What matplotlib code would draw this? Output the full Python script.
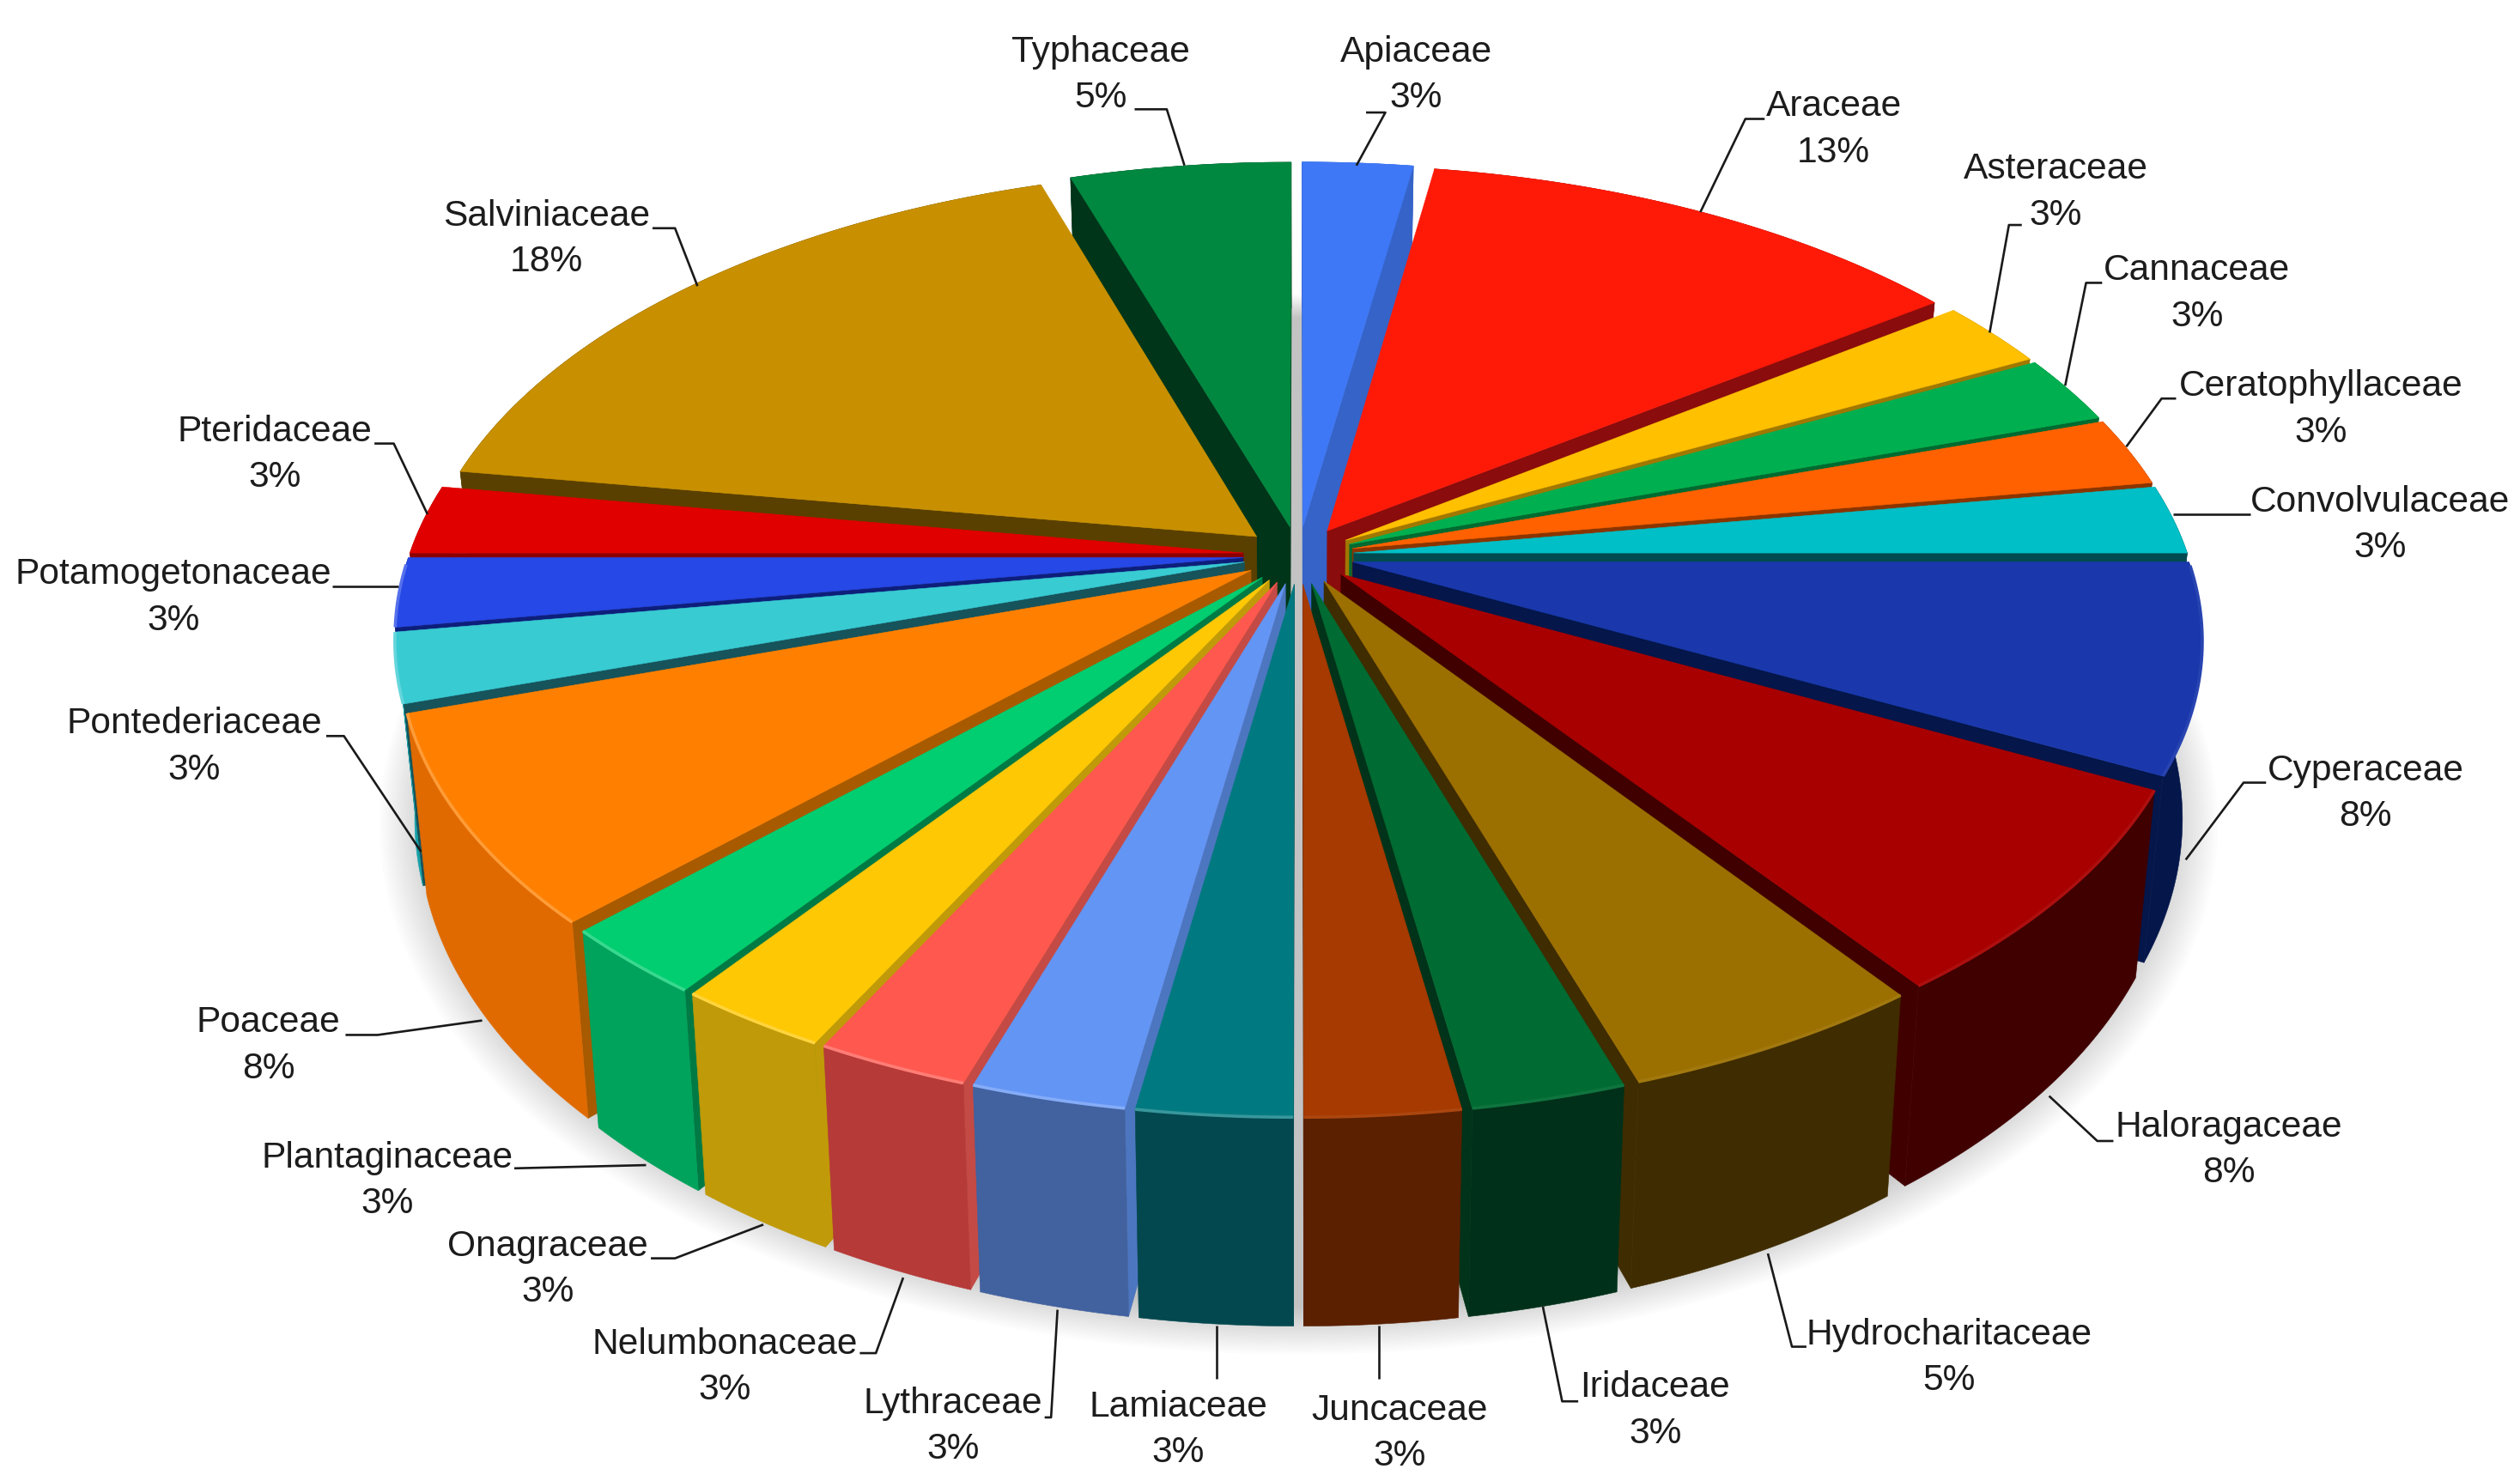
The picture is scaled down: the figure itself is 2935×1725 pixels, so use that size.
import numpy as np
import matplotlib
matplotlib.use("Agg")
import matplotlib.pyplot as plt
from matplotlib.patches import Polygon
from matplotlib.colors import to_rgb

families = ["Apiaceae","Araceae","Asteraceae","Cannaceae","Ceratophyllaceae","Convolvulaceae",
            "Cyperaceae","Haloragaceae","Hydrocharitaceae","Iridaceae","Juncaceae","Lamiaceae",
            "Lythraceae","Nelumbonaceae","Onagraceae","Plantaginaceae","Poaceae","Pontederiaceae",
            "Potamogetonaceae","Pteridaceae","Salviniaceae","Typhaceae"]
counts = [1,5,1,1,1,1,3,3,2,1,1,1,1,1,1,1,3,1,1,1,7,2]
pct_labels = ["3%","13%","3%","3%","3%","3%","8%","8%","5%","3%","3%","3%","3%","3%","3%","3%","8%","3%","3%","3%","18%","5%"]

top_colors = ["#3F78F6","#FF1A08","#FFC000","#00B050","#FF6000","#00BFC6","#1A38AC","#A80000","#9C7000",
              "#006B32","#A63A00","#007A80","#6395F5","#FF584F","#FFC805","#00CE70","#FF8000","#38CBD2",
              "#2548E6","#E00000","#C89000","#008840"]
wall_colors = ["#3563C8","#8A0C0C","#A07800","#006A30","#8A3500","#004A50","#04164A","#400000","#3F2C00",
               "#003019","#5A2000","#03484F","#41619F","#B53A38","#C09A08","#00A35C","#E06A00","#17A0A8",
               "#0D1F7A","#8A0000","#5A4000","#003519"]
side_colors = ["#3563C8","#8A0C0C","#A07800","#006A30","#8A3500","#004A50","#04164A","#400000","#3F2C00",
               "#003319","#5A2000","#03484F","#4D76C0","#C44A45","#C09A08","#007A44","#A85A00","#17535A",
               "#0D1F7A","#8A0000","#5A4000","#003519"]

label_xy = [(881,31),(1141,65),(1279,104),(1367,167),(1444,239),(1481,311),(1472,478),(1387,700),(1213,829),
            (1030,862),(871,876),(733,874),(593,872),(451,835),(341,774),(241,719),(167,635),(121,449),
            (108,356),(171,267),(340,133),(685,31)]
leaders = [[(850,70),(862,70),(844,103)],[(1098,74),(1086,74),(1058,132)],[(1258,140),(1250,140),(1238,207)],
           [(1308,176),(1298,176),(1285,240)],[(1354,248),(1345,248),(1323,278)],[(1400,320),(1352,320)],
           [(1410,487),(1396,487),(1360,535)],[(1315,710),(1305,710),(1275,682)],[(1124,838),(1115,838),(1100,780)],
           [(982,872),(972,872),(960,813)],[(858,858),(858,825)],[(757,858),(757,825)],
           [(650,882),(654,882),(658,815)],[(535,842),(545,842),(562,795)],[(405,783),(420,783),(475,762)],
           [(320,727),(402,725)],[(215,644),(235,644),(300,635)],[(203,458),(214,458),(262,530)],
           [(207,365),(248,365)],[(233,276),(245,276),(266,320)],[(406,142),(420,142),(434,178)],
           [(706,68),(726,68),(737,103)]]

W, H = 1568.0, 1725 * 1568.0 / 2935
CX, CY, A, B, K, T, EXPL, SHRINK = 808.0, 345.5, 519.0, 270.0, 0.1657, 107.0, 0.0665, 0.022

def project(u, v, z=0.0):
    u, v = np.asarray(u, float), np.asarray(v, float)
    d = 1 - K * v
    return CX + (1 - SHRINK * z) * A * u / d, CY + (B * v + T * z) / d

def pts(u, v, z=0.0):
    x, y = project(u, v, z)
    return np.column_stack([np.atleast_1d(x), np.atleast_1d(y)])

def mix(c, other, t):
    a, b = np.array(to_rgb(c)), np.array(to_rgb(other))
    return tuple(a * (1 - t) + b * t)

fig = plt.figure(figsize=(29.35, 17.25), dpi=100, facecolor="white")
ax = fig.add_axes([0, 0, 1, 1])
ax.set_xlim(0, W)
ax.set_ylim(H, 0)
ax.axis("off")
plt.rcParams["font.family"] = ["Liberation Sans", "DejaVu Sans"]

# soft shadow under the pie
th = np.linspace(0, 2 * np.pi, 240)
for s in np.linspace(1.055, 0.99, 20):
    base = pts(s * 1.05 * np.cos(th), s * 1.05 * np.sin(th), 1.0)
    ax.add_patch(Polygon(base, closed=True, fc="black", ec="none", alpha=0.011, zorder=1))

cum = np.cumsum([0] + counts) / sum(counts) * 2 * np.pi
slices = []
for i in range(len(counts)):
    a0, a1 = cum[i], cum[i + 1]
    mid = (a0 + a1) / 2
    slices.append((-np.cos(mid), i, a0, a1, mid))

z = 2
for _, i, a0, a1, mid in sorted(slices, key=lambda s: s[0]):
    ou, ov = EXPL * np.sin(mid), -EXPL * np.cos(mid)
    ang = np.linspace(a0, a1, 60)
    ru, rv = ou + np.sin(ang), ov - np.cos(ang)
    top = np.vstack([pts(ou, ov), pts(ru, rv)])
    bot = np.vstack([pts(ou, ov, 1.0), pts(ru, rv, 1.0)])
    apex_t, apex_b = top[0], bot[0]
    cen = top.mean(axis=0)
    # radial walls, only those that face the viewer
    for Q_t, Q_b in ((top[1], bot[1]), (top[-1], bot[-1])):
        e = Q_t - apex_t
        side_in = e[0] * (cen[1] - apex_t[1]) - e[1] * (cen[0] - apex_t[0])
        side_dn = e[0] * 1.0
        if side_in * side_dn < 0:
            ax.add_patch(Polygon([apex_t, Q_t, Q_b, apex_b], closed=True, fc=side_colors[i],
                                 ec=side_colors[i], lw=0.4, zorder=z)); z += 1
    # outer wall
    wall = np.vstack([top[1:], bot[1:][::-1]])
    ax.add_patch(Polygon(wall, closed=True, fc=wall_colors[i], ec=wall_colors[i], lw=0.4, zorder=z)); z += 1
    # top face
    ax.add_patch(Polygon(top, closed=True, fc=top_colors[i], ec=top_colors[i], lw=0.4, zorder=z)); z += 1
    # bright bevel on the visible rim
    vis = rv > 0.02
    if vis.sum() > 1:
        rim = pts(ru[vis], rv[vis])
        strength = 0.22 if np.sin(mid) < 0 else 0.06
        ax.plot(rim[:, 0], rim[:, 1], color=mix(top_colors[i], "white", strength), lw=2.6,
                solid_capstyle="butt", zorder=z); z += 1

for name, pct, (lx, ly), path in zip(families, pct_labels, label_xy, leaders):
    xs, ys = zip(*path)
    ax.plot(xs, ys, color="#1a1a1a", lw=1.9, solid_capstyle="butt", zorder=z)
    ax.text(lx, ly + 1.5, name, ha="center", va="center", fontsize=30.6, color="#1c1c1c", zorder=z + 1)
    ax.text(lx, ly + 30, pct, ha="center", va="center", fontsize=30.6, color="#1c1c1c", zorder=z + 1)

fig.savefig("out.png", dpi=100, facecolor="white")
